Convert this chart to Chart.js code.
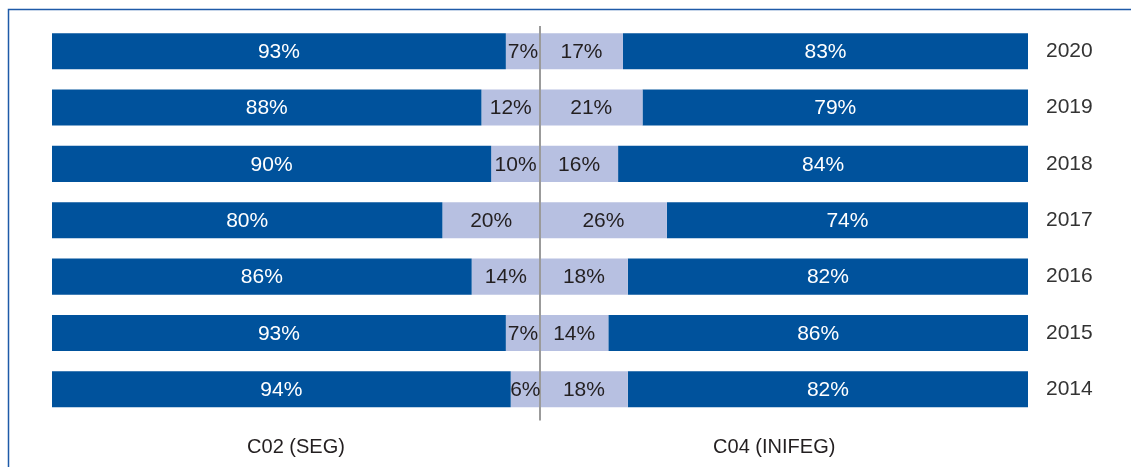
<!DOCTYPE html>
<html>
<head>
<meta charset="utf-8">
<script src="https://cdn.jsdelivr.net/npm/chart.js@4/dist/chart.umd.min.js"></script>
<style>
  body { margin: 0; background: #fff; }
  #wrap { width: 1131px; height: 467px; position: relative; }
</style>
</head>
<body>
<div id="wrap"><canvas id="grafica" width="1131" height="467"></canvas></div>
<script>
// years top to bottom
const years = ["2020", "2019", "2018", "2017", "2016", "2015", "2014"];
// C02 (SEG): dark part, light part
const segDark = [93, 88, 90, 80, 86, 93, 94];
const segLight = [7, 12, 10, 20, 14, 7, 6];
// C04 (INIFEG): light part, dark part
const inifegLight = [17, 21, 16, 26, 18, 14, 18];
const inifegDark = [83, 79, 84, 74, 82, 86, 82];
const panelLabels = ["C02 (SEG)", "C04 (INIFEG)"];

const azul = "#00529c";
const claro = "#b7c0e1";
const fuente = "'Liberation Sans', Arial, Helvetica, sans-serif";

// marco azul arriba y a la izquierda
const marco = {
    id: "marco",
    beforeDraw(chart) {
        const ctx = chart.ctx;
        ctx.save();
        ctx.strokeStyle = "#1e5aa8";
        ctx.lineWidth = 1.5;
        ctx.beginPath();
        ctx.moveTo(8.5, 467);
        ctx.lineTo(8.5, 9.5);
        ctx.lineTo(1131, 9.5);
        ctx.stroke();
        ctx.restore();
    }
};

// linea gris al centro
const lineaCentro = {
    id: "lineaCentro",
    afterDatasetsDraw(chart) {
        const ctx = chart.ctx;
        const x = Math.round(chart.scales.x.getPixelForValue(100));
        ctx.save();
        ctx.strokeStyle = "#9b9b9b";
        ctx.lineWidth = 2;
        ctx.beginPath();
        ctx.moveTo(x, chart.chartArea.top + 3);
        ctx.lineTo(x, chart.chartArea.bottom + 3);
        ctx.stroke();
        ctx.restore();
    }
};

// etiquetas de porcentaje dentro de las barras
const etiquetas = {
    id: "etiquetas",
    afterDatasetsDraw(chart) {
        const ctx = chart.ctx;
        ctx.save();
        ctx.font = "21px " + fuente;
        ctx.textAlign = "center";
        ctx.textBaseline = "middle";
        chart.data.datasets.forEach((ds, i) => {
            chart.getDatasetMeta(i).data.forEach((bar, j) => {
                const cx = (bar.x + bar.base) / 2;
                ctx.fillStyle = ds.backgroundColor === azul ? "#ffffff" : "#231f20";
                ctx.fillText(ds.data[j] + "%", cx, bar.y + 1);
            });
        });
        ctx.restore();
    }
};

new Chart(document.getElementById("grafica"), {
    type: "bar",
    data: {
        labels: years,
        datasets: [
            { label: "SEG dark", data: segDark, backgroundColor: azul },
            { label: "SEG light", data: segLight, backgroundColor: claro },
            { label: "INIFEG light", data: inifegLight, backgroundColor: claro },
            { label: "INIFEG dark", data: inifegDark, backgroundColor: azul }
        ]
    },
    options: {
        indexAxis: "y",
        responsive: false,
        animation: false,
        layout: { padding: { left: 52, top: 23, right: 0, bottom: 0 } },
        datasets: { bar: { categoryPercentage: 0.8, barPercentage: 0.8, borderWidth: 0 } },
        plugins: { legend: { display: false }, tooltip: { enabled: false } },
        scales: {
            x: {
                stacked: true,
                min: 0,
                max: 200,
                grid: { display: false, drawTicks: false },
                border: { display: false },
                afterBuildTicks(scale) {
                    scale.ticks = [{ value: 50 }, { value: 148 }];
                },
                afterFit(scale) {
                    scale.height = 49.5;
                    scale.paddingLeft = 0;
                    scale.paddingRight = 0;
                },
                ticks: {
                    autoSkip: false,
                    maxRotation: 0,
                    padding: 18,
                    color: "#231f20",
                    font: { size: 20, family: fuente },
                    callback: (v, i) => panelLabels[i]
                }
            },
            y: {
                stacked: true,
                position: "right",
                grid: { display: false, drawTicks: false },
                border: { display: false },
                afterFit(scale) {
                    scale.width = 103;
                    scale.paddingTop = 0;
                    scale.paddingBottom = 0;
                },
                ticks: {
                    padding: 18,
                    color: "#333333",
                    font: { size: 21, family: fuente }
                }
            }
        }
    },
    plugins: [marco, lineaCentro, etiquetas]
});
</script>
</body>
</html>
